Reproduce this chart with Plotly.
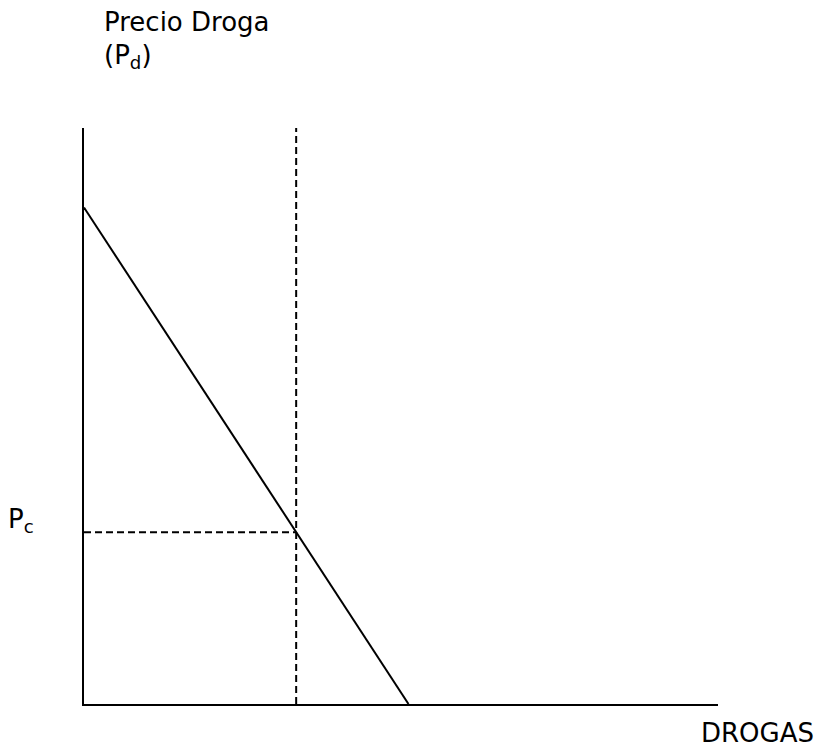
import plotly.graph_objects as go

# Data (arbitrary units; origin at the axes corner)
demand_q = [0, 65]
demand_p = [100, 0]
qc = 42.5
pc = 34.6
q_max = 127
p_max = 116

W, H = 820, 751
L, R, T, B = 84, 102, 128, 47
pw, ph = W - L - R, H - T - B

def px_x(px):
    return (px - L) / pw

def px_y(py):
    return (H - B - py) / ph

font = dict(family="DejaVu Sans", size=26, color="black")

fig = go.Figure()
fig.add_trace(go.Scatter(x=demand_q, y=demand_p, mode="lines",
                         line=dict(color="black", width=2), hoverinfo="skip"))
fig.add_trace(go.Scatter(x=[qc, qc], y=[0, p_max], mode="lines",
                         line=dict(color="black", width=2, dash="7px,4px"), hoverinfo="skip"))
fig.add_trace(go.Scatter(x=[0, qc], y=[pc, pc], mode="lines",
                         line=dict(color="black", width=2, dash="7px,4px"), hoverinfo="skip"))

annotations = [
    dict(text="Precio Droga", x=px_x(102), y=px_y(22), xanchor="left"),
    dict(text="(P<sub>d</sub>)", x=px_x(102), y=px_y(56), xanchor="left"),
    dict(text="P<sub>c</sub>", x=px_x(6), y=px_y(520), xanchor="left"),
    dict(text="DROGAS", x=px_x(699), y=px_y(733), xanchor="left"),
]
for a in annotations:
    a.update(xref="paper", yref="paper", yanchor="middle",
             showarrow=False, font=font)

fig.update_layout(
    width=W, height=H,
    margin=dict(l=L, r=R, t=T, b=B, pad=0),
    paper_bgcolor="white", plot_bgcolor="white",
    showlegend=False,
    annotations=annotations,
    xaxis=dict(range=[0, q_max], showline=True, linecolor="black", linewidth=2,
               showgrid=False, zeroline=False, showticklabels=False, ticks="",
               fixedrange=True),
    yaxis=dict(range=[0, p_max], showline=True, linecolor="black", linewidth=2,
               showgrid=False, zeroline=False, showticklabels=False, ticks="",
               fixedrange=True),
)

fig.write_html("out.html", config={"displayModeBar": False},
               post_script="document.body.style.margin='0';document.body.style.overflow='hidden';")
